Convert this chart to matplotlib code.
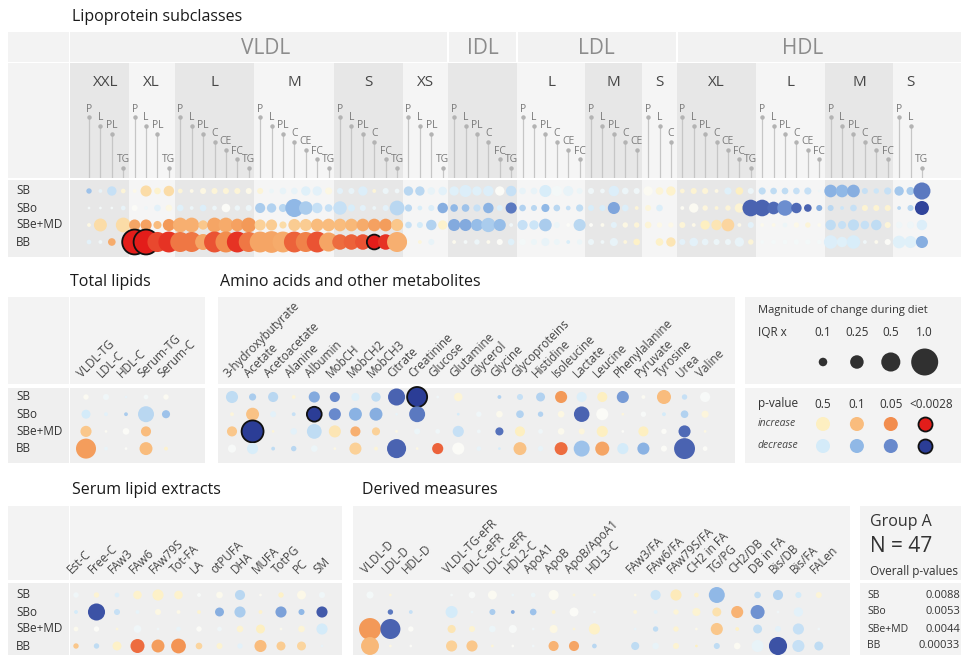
import numpy as np
import matplotlib.pyplot as plt
from matplotlib.colors import LinearSegmentedColormap
from matplotlib.patches import Rectangle
from matplotlib.transforms import blended_transform_factory as blend

plt.rcParams['font.family'] = ['Open Sans', 'DejaVu Sans']

W, H = 961, 657
rows = ['SB', 'SBo', 'SBe+MD', 'BB']

# ---------------- data ----------------
# lipoprotein subclasses: (class, size, measured components)
lipo_groups = [
    ('VLDL', 'XXL', ['P', 'L', 'PL', 'TG']),
    ('VLDL', 'XL', ['P', 'L', 'PL', 'TG']),
    ('VLDL', 'L', ['P', 'L', 'PL', 'C', 'CE', 'FC', 'TG']),
    ('VLDL', 'M', ['P', 'L', 'PL', 'C', 'CE', 'FC', 'TG']),
    ('VLDL', 'S', ['P', 'L', 'PL', 'C', 'FC', 'TG']),
    ('VLDL', 'XS', ['P', 'L', 'PL', 'TG']),
    ('IDL', '', ['P', 'L', 'PL', 'C', 'FC', 'TG']),
    ('LDL', 'L', ['P', 'L', 'PL', 'C', 'CE', 'FC']),
    ('LDL', 'M', ['P', 'L', 'PL', 'C', 'CE']),
    ('LDL', 'S', ['P', 'L', 'C']),
    ('HDL', 'XL', ['P', 'L', 'PL', 'C', 'CE', 'FC', 'TG']),
    ('HDL', 'L', ['P', 'L', 'PL', 'C', 'CE', 'FC']),
    ('HDL', 'M', ['P', 'L', 'PL', 'C', 'CE', 'FC']),
    ('HDL', 'S', ['P', 'L', 'TG']),
]

# magnitude of change (x IQR) and signed significance level
# (1 = p 0.5, 2 = p 0.1, 3 = p 0.05, 4 = p < 0.0028; + increase, - decrease)
lipo_mag = [
    [0.04, 0.02, 0.12, 0.03, 0.02, 0.17, 0.06, 0.15,
     0.03, 0.02, 0.05, 0.05, 0.05, 0.05, 0.05, 0.05, 0.03, 0.06, 0.06, 0.12, 0.12, 0.07,
     0.05, 0.05, 0.12, 0.02, 0.05, 0.03, 0.12, 0.12, 0.08, 0.10,
     0.12, 0.20, 0.12, 0.15, 0.12, 0.15,
     0.06, 0.06, 0.20, 0.15, 0.14, 0.05, 0.05, 0.03, 0.15, 0.06, 0.05, 0.12, 0.08, 0.12,
     0.03, 0.05, 0.05, 0.02, 0.07, 0.08, 0.05, 0.07, 0.06, 0.06, 0.06, 0.07, 0.01,
     0.22, 0.22, 0.22, 0.05, 0.04, 0.07, 0.12, 0.09, 0.40],
    [0.01, 0.01, 0.01, 0.03, 0.05, 0.02, 0.06, 0.06,
     0.06, 0.02, 0.06, 0.03, 0.10, 0.04, 0.05, 0.14, 0.12, 0.09, 0.45, 0.25, 0.15, 0.08,
     0.25, 0.07, 0.05, 0.02, 0.05, 0.30, 0.07, 0.03, 0.05, 0.15,
     0.08, 0.08, 0.07, 0.15, 0.05, 0.17,
     0.06, 0.05, 0.09, 0.06, 0.03, 0.07, 0.05, 0.05, 0.20, 0.06, 0.02, 0.05, 0.06, 0.00,
     0.02, 0.12, 0.04, 0.02, 0.04, 0.12, 0.38, 0.38, 0.22, 0.33, 0.15, 0.08, 0.05,
     0.05, 0.02, 0.06, 0.05, 0.05, 0.05, 0.02, 0.05, 0.27],
    [0.02, 0.23, 0.00, 0.30, 0.17, 0.17, 0.09, 0.20,
     0.30, 0.30, 0.12, 0.30, 0.30, 0.22, 0.30, 0.17, 0.17, 0.07, 0.20, 0.20, 0.22, 0.22,
     0.22, 0.22, 0.22, 0.22, 0.22, 0.20, 0.06, 0.05, 0.15, 0.12,
     0.20, 0.20, 0.20, 0.28, 0.20, 0.02,
     0.14, 0.12, 0.22, 0.05, 0.02, 0.20, 0.02, 0.02, 0.05, 0.04, 0.04, 0.06, 0.04, 0.04,
     0.05, 0.02, 0.12, 0.15, 0.22, 0.02, 0.05, 0.02, 0.02, 0.03, 0.04, 0.04, 0.02,
     0.15, 0.09, 0.17, 0.10, 0.15, 0.05, 0.06, 0.07, 0.15],
    [0.03, 0.02, 0.08, 0.00, 0.85, 0.85, 0.55, 0.60,
     0.55, 0.55, 0.35, 0.60, 0.60, 0.60, 0.55, 0.60, 0.65, 0.60, 0.60, 0.55, 0.60, 0.50,
     0.33, 0.33, 0.33, 0.30, 0.33, 0.55, 0.01, 0.02, 0.05, 0.00,
     0.02, 0.02, 0.04, 0.02, 0.05, 0.06,
     0.06, 0.05, 0.09, 0.05, 0.02, 0.04, 0.05, 0.02, 0.09, 0.02, 0.06, 0.00, 0.08, 0.12,
     0.05, 0.10, 0.06, 0.05, 0.05, 0.12, 0.04, 0.02, 0.03, 0.03, 0.04, 0.04, 0.03,
     0.25, 0.15, 0.25, 0.02, 0.02, 0.05, 0.22, 0.20, 0.20],
]
lipo_sig = [
    [-1.8, -0.5, -1.2, 0.6, 0.3, 1.4, 0.8, 1.4,
     0.6, 0.3, 0.4, 0.6, 0.6, 0.6, 0.3, 0.6, -0.4, -0.5, -0.5, -0.7, -0.6, 0.4,
     -0.6, -0.5, -0.8, 0.6, -0.4, -0.3, -1.4, -1.4, -0.5, -0.6,
     -0.7, -0.8, -0.7, -0.8, 0.0, -1.2,
     -0.5, -0.5, -0.9, -0.2, -0.5, -0.4, -0.3, -0.3, -0.8, -0.4, -0.3, 0.1, 0.6, 0.8,
     0.6, 0.7, 0.6, 0.4, -0.7, 1.0, -0.4, -1.3, -1.3, -1.3, -1.2, -1.2, -0.3,
     -2.1, -2.0, -2.2, -1.2, -1.1, -1.2, -1.7, -1.6, -3.2],
    [-0.2, -0.2, -0.2, -0.5, 0.0, -0.3, -0.6, 0.4,
     -0.7, -0.4, -0.8, -0.4, 0.0, -0.4, -0.4, -1.6, -1.5, -1.4, -2.0, -1.6, -1.2, -1.2,
     -1.2, -0.9, -0.6, -0.4, -0.6, -1.4, -1.4, -0.9, -0.8, -2.2,
     -2.0, -1.8, -1.2, -2.1, -0.8, -3.2,
     -1.5, -1.4, -2.0, -1.4, -1.2, -1.3, -0.9, -0.9, -2.4, -0.8, 0.6, 0.5, -0.8, 0.0,
     0.1, 0.1, 0.5, 0.6, 0.6, 0.7, -3.5, -3.5, -3.4, -2.9, -3.4, -3.5, -2.2,
     -1.4, -1.1, -1.2, 0.7, 0.7, 0.7, -1.4, -1.4, -3.9],
    [0.4, 1.4, 0.0, 1.4, 2.5, 2.6, 2.0, 2.8,
     2.3, 2.3, 1.8, 2.5, 2.4, 2.6, 2.8, 1.6, 1.7, 1.4, 1.7, 1.7, 2.0, 2.0,
     2.0, 2.1, 2.4, 2.6, 2.7, 1.8, -1.2, -1.0, -1.5, 0.8,
     -2.3, -2.3, -1.9, -1.6, -1.9, -0.3,
     -1.2, -1.1, -1.6, -0.4, 0.0, -1.4, 0.0, 0.2, -0.6, 0.4, 0.6, 0.6, 0.3, 0.3,
     0.6, 0.3, 1.0, 1.2, 1.5, 0.3, -0.6, 0.2, 0.3, -0.4, 0.3, 0.6, 0.2,
     -1.3, -1.2, -1.3, -1.2, -1.3, 0.6, -0.3, -0.3, -0.8],
    [-0.6, -0.3, 2.4, 0.0, 4.0, 4.0, 3.6, 3.8,
     3.2, 3.2, 2.5, 3.5, 3.0, 3.8, 3.2, 2.5, 2.5, 2.4, 3.4, 3.1, 3.5, 2.5,
     3.3, 3.4, 3.5, 4.0, 3.8, 2.3, 0.3, 0.5, -0.5, 0.0,
     0.2, -0.2, -0.4, 0.2, 0.0, -0.7,
     -0.2, -0.4, -0.5, -0.4, -0.9, -0.4, -0.4, -0.3, -0.5, 0.5, 0.9, 0.0, 0.9, 1.2,
     -0.6, -0.6, -0.5, -0.4, -0.4, -0.5, 0.6, -0.2, -0.2, -0.2, -0.2, -0.2, -0.2,
     -0.8, -0.7, -0.9, -0.3, 0.2, 0.0, -0.7, -0.7, -2.2],
]

tl_labels = ['VLDL-TG', 'LDL-C', 'HDL-C', 'Serum-TG', 'Serum-C']
tl_mag = [[0.04, 0.05, 0.01, 0.03, 0.04],
          [0.11, 0.02, 0.02, 0.35, 0.09],
          [0.17, 0.01, 0.06, 0.14, 0.00],
          [0.55, 0.02, 0.01, 0.23, 0.02]]
tl_sig = [[0.1, -0.3, -0.5, -0.2, 0.1],
          [-1.0, -0.6, -1.6, -1.4, -1.8],
          [1.8, 0.1, 0.0, 2.0, 0.0],
          [2.7, -0.5, 0.0, 2.0, 0.8]]

aa_labels = ['3-hydroxybutyrate', 'Acetate', 'Acetoacetate', 'Alanine', 'Albumin',
             'MobCH', 'MobCH2', 'MobCH3', 'Citrate', 'Creatinine', 'Glucose',
             'Glutamine', 'Glycerol', 'Glycine', 'Glycoproteins', 'Histidine',
             'Isoleucine', 'Lactate', 'Leucine', 'Phenylalanine', 'Pyruvate',
             'Tyrosine', 'Urea', 'Valine']
aa_mag = [[0.20, 0.07, 0.14, 0.02, 0.17, 0.14, 0.09, 0.12, 0.40, 0.55, 0.01, 0.10,
           0.00, 0.02, 0.05, 0.11, 0.20, 0.14, 0.14, 0.20, 0.02, 0.27, 0.04, 0.14],
          [0.02, 0.23, 0.05, 0.02, 0.30, 0.20, 0.23, 0.23, 0.01, 0.35, 0.00, 0.01,
           0.04, 0.06, 0.08, 0.04, 0.06, 0.33, 0.20, 0.01, 0.04, 0.02, 0.08, 0.07],
          [0.14, 0.66, 0.01, 0.06, 0.30, 0.20, 0.14, 0.09, 0.01, 0.05, 0.03, 0.17,
           0.02, 0.09, 0.14, 0.03, 0.06, 0.05, 0.17, 0.01, 0.14, 0.04, 0.20, 0.01],
          [0.09, 0.17, 0.02, 0.04, 0.06, 0.01, 0.20, 0.02, 0.50, 0.01, 0.17, 0.20,
           0.03, 0.01, 0.23, 0.04, 0.23, 0.35, 0.27, 0.17, 0.20, 0.05, 0.60, 0.03]]
aa_sig = [[-1.3, -1.6, -1.4, 0.6, -2.3, -3.0, -0.7, -1.3, -3.5, -4.0, -0.3, 0.6,
           0.0, -1.5, -1.2, -1.5, 2.8, -0.8, 1.0, -2.6, 0.1, 2.0, -1.2, -0.1],
          [0.5, 1.9, -0.6, -1.2, -4.0, -3.0, -2.1, -2.2, -0.5, -3.2, 0.0, -1.0,
           -0.3, 0.2, -1.5, -1.5, 0.4, -3.5, 0.0, 0.5, -0.1, -1.0, -1.5, 0.5],
          [1.8, -4.0, 0.6, -0.6, -1.3, 1.2, 2.3, 1.6, 0.4, -0.4, -0.3, -1.2,
           -0.3, -3.3, 1.0, -0.3, 0.2, 0.5, 1.0, 0.0, 1.0, 0.0, -3.4, 0.4],
          [-0.1, -0.9, -1.3, -1.4, -0.4, 0.4, 1.6, 0.6, -3.5, 0.4, 3.4, 0.0,
           -0.5, -1.0, 1.9, -0.5, 3.3, -1.8, 2.5, -1.0, -2.1, 0.0, -3.5, 0.0]]

sl_labels = ['Est-C', 'Free-C', 'FAw3', 'FAw6', 'FAw79S', 'Tot-FA', 'LA',
             'otPUFA', 'DHA', 'MUFA', 'TotPG', 'PC', 'SM']
sl_mag = [[0.04, 0.04, 0.03, 0.10, 0.17, 0.10, 0.02, 0.06, 0.14, 0.01, 0.04, 0.11, 0.05],
          [0.02, 0.40, 0.05, 0.02, 0.05, 0.02, 0.02, 0.11, 0.17, 0.02, 0.17, 0.05, 0.17],
          [0.03, 0.04, 0.01, 0.08, 0.01, 0.03, 0.04, 0.03, 0.06, 0.11, 0.01, 0.06, 0.17],
          [0.04, 0.04, 0.11, 0.27, 0.23, 0.30, 0.06, 0.05, 0.04, 0.20, 0.11, 0.11, 0.01]]
sl_sig = [[-0.3, 0.7, -0.8, 0.8, 0.9, 0.8, -0.1, 0.2, -1.4, 0.1, 0.9, 0.3, -0.3],
          [-1.0, -3.7, -1.2, -0.5, 0.4, 0.3, 0.7, -2.2, -1.6, 0.8, -2.5, -2.0, -3.6],
          [0.2, 0.0, 0.5, -0.3, -0.3, -0.5, 0.0, -0.3, 0.7, 1.0, 0.2, 0.6, -1.0],
          [1.8, -1.3, 0.9, 3.3, 2.7, 2.9, 1.5, 0.7, -0.6, 2.0, 1.7, 1.5, -0.5]]

dm_labels = ['VLDL-D', 'LDL-D', 'HDL-D',
             'VLDL-TG-eFR', 'IDL-C-eFR', 'LDL-C-eFR', 'HDL2-C', 'ApoA1', 'ApoB',
             'ApoB/ApoA1', 'HDL3-C',
             'FAw3/FA', 'FAw6/FA', 'FAw79S/FA', 'CH2 in FA', 'TG/PG', 'CH2/DB',
             'DB in FA', 'Bis/DB', 'Bis/FA', 'FALen']
dm_slots = [0, 1, 2, 4, 5, 6, 7, 8, 9, 10, 11, 13, 14, 15, 16, 17, 18, 19, 20, 21, 22]
dm_mag = [[0.07, 0.01, 0.00, 0.01, 0.06, 0.11, 0.01, 0.03, 0.14, 0.01, 0.01,
           0.01, 0.14, 0.17, 0.03, 0.35, 0.00, 0.06, 0.14, 0.05, 0.05],
          [0.00, 0.04, 0.02, 0.20, 0.01, 0.05, 0.02, 0.06, 0.02, 0.11, 0.01,
           0.02, 0.02, 0.04, 0.09, 0.11, 0.20, 0.27, 0.01, 0.12, 0.00],
          [0.66, 0.55, 0.04, 0.09, 0.05, 0.06, 0.09, 0.01, 0.09, 0.01, 0.17,
           0.01, 0.04, 0.04, 0.01, 0.20, 0.02, 0.11, 0.05, 0.17, 0.01],
          [0.44, 0.01, 0.01, 0.17, 0.17, 0.01, 0.01, 0.01, 0.14, 0.14, 0.03,
           0.09, 0.06, 0.05, 0.01, 0.05, 0.06, 0.20, 0.45, 0.20, 0.11]]
dm_sig = [[-0.2, 0.5, 0.0, -0.2, -0.1, 0.1, -0.4, -0.4, 0.1, 0.6, 0.5,
           0.3, -1.1, 1.1, 0.8, -2.0, 0.0, -1.3, -1.5, -1.0, 0.6],
          [0.0, -3.2, -1.2, -1.0, -0.4, -1.6, -2.2, -1.8, 0.7, 0.0, -0.3,
           0.5, -0.6, 0.6, 0.7, 1.3, 2.2, -2.8, -0.3, -0.6, 0.0],
          [2.8, -3.5, 0.0, 1.2, 0.7, -0.4, -0.1, -0.3, 0.4, 0.6, 0.9,
           -0.5, -1.3, 0.7, 0.3, 1.8, 0.9, -1.3, -0.6, -1.2, -0.3],
          [2.1, 0.4, 0.0, 1.6, 1.8, 0.6, 0.0, -0.3, 2.2, 2.5, -1.4,
           -1.3, -0.5, 0.7, 1.0, -1.3, 0.1, -0.5, -3.7, -1.2, -1.3]]

legend_iqr = [0.1, 0.25, 0.5, 1.0]
legend_p = ['0.5', '0.1', '0.05', '<0.0028']
legend_level = [1, 2, 3, 4]

group_name = 'Group A'
group_n = 47
overall_p = ['0.0088', '0.0053', '0.0044', '0.00033']

# ---------------- styling ----------------
sig_nodes = [-4, -3, -2, -1, 0, 1, 2, 3, 4]
sig_colors = ['#2b3d96', '#6889cc', '#8fb8e6', '#d4ebf9', '#fbfbf8',
              '#fdf0c2', '#f9bd7e', '#f2904f', '#e31d1a']
cmap = LinearSegmentedColormap.from_list(
    'sig', list(zip([(v + 4) / 8 for v in sig_nodes], sig_colors)))
SIZE = 378.0          # marker area (pt^2) for a change of 1 IQR
HEAD = '#f3f3f3'
BODY = '#efefef'
TXT = '#333333'

fig = plt.figure(figsize=(W / 100, H / 100), dpi=100)
bg = fig.add_axes([0, 0, 1, 1])
bg.set_xlim(0, W)
bg.set_ylim(H, 0)
bg.axis('off')


def box(x0, y0, x1, y1, color):
    bg.add_patch(Rectangle((x0, y0), x1 - x0, y1 - y0, fc=color, ec='none', zorder=0))


def grid_axes(left, top, right, bottom, cx0, cdx, ry0, rdy):
    ax = fig.add_axes([left / W, 1 - bottom / H, (right - left) / W, (bottom - top) / H])
    ax.set_xlim((left - cx0) / cdx, (right - cx0) / cdx)
    ax.set_ylim((bottom - ry0) / rdy, (top - ry0) / rdy)
    ax.axis('off')
    return ax


def dots(ax, xs, mag, sig):
    xs = np.asarray(xs, float)
    for r in range(len(rows)):
        m = np.asarray(mag[r], float)
        s = np.asarray(sig[r], float)
        keep = m > 0
        strong = np.abs(s[keep]) >= 4
        ax.scatter(xs[keep], np.full(keep.sum(), r), s=SIZE * m[keep],
                   c=cmap((s[keep] + 4) / 8),
                   edgecolors=['#111111' if k else 'none' for k in strong],
                   linewidths=np.where(strong, 1.3, 0.0), zorder=3, clip_on=False)


def row_labels(ax):
    tr = blend(bg.transData, ax.transData)
    for r, name in enumerate(rows):
        ax.text(16, r, name, transform=tr, fontsize=8.5, color=TXT, va='center', ha='left')


def col_labels(ax, xs, labels, y, dx):
    tr = blend(ax.transData, bg.transData)
    for x, name in zip(xs, labels):
        ax.text(x - 4 / dx, y, name, transform=tr, rotation=45, rotation_mode='anchor',
                ha='left', va='baseline', fontsize=8.5, color='#444444')


def title(x, y, text):
    bg.text(x, y, text, fontsize=11.5, color='#1a1a1a', va='center', ha='left')


# ---------------- lipoprotein subclasses ----------------
title(72, 17, 'Lipoprotein subclasses')
box(8, 32, 69, 62, HEAD)
box(8, 63, 69, 178, HEAD)
box(8, 180, 69, 257, BODY)

LX0, LDX = 89, 11.41
hd = grid_axes(70, 32, 961, 178, LX0, LDX, 0, 1)
dt = grid_axes(70, 180, 961, 257, LX0, LDX, 191, 17)
xl, xr = hd.get_xlim()

comps, spans = [], []
for cls, sub, cs in lipo_groups:
    spans.append((cls, sub, len(comps), len(comps) + len(cs) - 1))
    comps += cs

stem_top = {'P': 117, 'L': 126, 'PL': 134, 'C': 142, 'CE': 150, 'FC': 159, 'TG': 168}

for k, (cls, sub, i0, i1) in enumerate(spans):
    left = xl if k == 0 else i0 - 0.5
    right = xr if k == len(spans) - 1 else i1 + 0.5
    shade = '#e7e7e7' if k % 2 == 0 else '#f5f5f5'
    hd.add_patch(Rectangle((left, 63), right - left, 115, fc=shade, ec='none', zorder=0))
    dt.axvspan(left, right, color=shade, lw=0, zorder=0)
    if sub:
        hd.text((i0 + i1) / 2, 83, sub, ha='center', va='center', fontsize=11, color='#474747')

classes = []
for cls, sub, i0, i1 in spans:
    if classes and classes[-1][0] == cls:
        classes[-1][2] = i1
    else:
        classes.append([cls, i0, i1])
for k, (cls, i0, i1) in enumerate(classes):
    left = xl if k == 0 else i0 - 0.5
    right = xr if k == len(classes) - 1 else i1 + 0.5
    hd.add_patch(Rectangle((left, 32), right - left, 30, fc='#f2f2f2', ec='none', zorder=0))
    if k > 0:
        hd.vlines(i0 - 0.5, 32, 62, color='white', lw=1.5, zorder=1)
    hd.text((i0 + i1) / 2, 48, cls, ha='center', va='center', fontsize=15, color='#8c8c8c')

for i, c in enumerate(comps):
    top = stem_top[c]
    hd.vlines(i, top, 178, color='#c6c6c6', lw=0.9, zorder=2)
    hd.plot(i, top, 'o', ms=2.2, color='#b3b3b3', zorder=3)
    hd.text(i, top - 2.5, c, ha='center', va='bottom', fontsize=7.5, color='#7a7a7a')

dots(dt, np.arange(len(comps)), lipo_mag, lipo_sig)
row_labels(dt)

# ---------------- total lipids ----------------
title(70, 282, 'Total lipids')
box(8, 297, 69, 384, HEAD)
box(70, 297, 205, 384, HEAD)
box(8, 388, 69, 463, BODY)
box(70, 388, 205, 463, BODY)
ax_tl = grid_axes(70, 388, 205, 463, 86, 20, 397, 17.2)
dots(ax_tl, np.arange(len(tl_labels)), tl_mag, tl_sig)
row_labels(ax_tl)
col_labels(ax_tl, np.arange(len(tl_labels)), tl_labels, 378, 20)

# ---------------- amino acids ----------------
title(220, 282, 'Amino acids and other metabolites')
box(218, 297, 735, 384, HEAD)
box(218, 388, 735, 463, BODY)
ax_aa = grid_axes(218, 388, 735, 463, 232, 20.57, 397, 17.2)
dots(ax_aa, np.arange(len(aa_labels)), aa_mag, aa_sig)
col_labels(ax_aa, np.arange(len(aa_labels)), aa_labels, 378, 20.57)

# ---------------- legend ----------------
box(745, 297, 961, 384, HEAD)
box(745, 388, 961, 463, HEAD)
lg = grid_axes(745, 297, 961, 463, 823, 33.9, 0, 1)
tr_lg = blend(bg.transData, lg.transData)
lg.text(758, 310, 'Magnitude of change during diet', transform=tr_lg, fontsize=8,
        color=TXT, va='center')
lg.text(758, 333, 'IQR x', transform=tr_lg, fontsize=8.5, color=TXT, va='center')
for i, v in enumerate(legend_iqr):
    lg.text(i, 333, f'{v:g}' if v != 1 else '1.0', ha='center', va='center',
            fontsize=8.5, color=TXT)
lg.scatter(np.arange(len(legend_iqr)), np.full(len(legend_iqr), 362),
           s=SIZE * np.array(legend_iqr), color='#303030', lw=0, clip_on=False)
lg.text(758, 404, 'p-value', transform=tr_lg, fontsize=8.5, color=TXT, va='center')
lg.text(758, 424, 'increase', transform=tr_lg, fontsize=7.5, color='#444444',
        va='center', style='italic')
lg.text(758, 446, 'decrease', transform=tr_lg, fontsize=7.5, color='#444444',
        va='center', style='italic')
for i, (p, lev) in enumerate(zip(legend_p, legend_level)):
    shift = 0.2 if i == len(legend_p) - 1 else 0.0
    lg.text(i + shift, 404, p, ha='center', va='center', fontsize=8.5, color=TXT)
    for y, sgn in ((424, 1), (446, -1)):
        lg.scatter(i, y, s=SIZE * 0.27, color=cmap((sgn * lev + 4) / 8),
                   edgecolors='#111111' if lev >= 4 else 'none',
                   linewidths=1.3 if lev >= 4 else 0, clip_on=False)

# ---------------- serum lipid extracts ----------------
title(72, 490, 'Serum lipid extracts')
box(8, 506, 69, 580, HEAD)
box(70, 506, 342, 580, HEAD)
box(8, 583, 69, 655, BODY)
box(70, 583, 342, 655, BODY)
ax_sl = grid_axes(70, 583, 342, 655, 76, 20.5, 595, 17)
dots(ax_sl, np.arange(len(sl_labels)), sl_mag, sl_sig)
row_labels(ax_sl)
col_labels(ax_sl, np.arange(len(sl_labels)), sl_labels, 574, 20.5)

# ---------------- derived measures ----------------
title(362, 490, 'Derived measures')
box(353, 506, 850, 580, HEAD)
box(353, 583, 850, 655, BODY)
ax_dm = grid_axes(353, 583, 850, 655, 370, 20.4, 595, 17)
dots(ax_dm, dm_slots, dm_mag, dm_sig)
col_labels(ax_dm, dm_slots, dm_labels, 574, 20.4)

# ---------------- group summary ----------------
box(860, 506, 961, 580, HEAD)
box(860, 583, 961, 655, HEAD)
bg.text(870, 522, group_name, fontsize=11.5, color=TXT, va='center')
bg.text(870, 547, f'N = {group_n}', fontsize=15, color=TXT, va='center')
bg.text(870, 571, 'Overall p-values', fontsize=8.5, color=TXT, va='center')
tr_g = blend(bg.transData, ax_sl.transData)
for r, (name, p) in enumerate(zip(rows, overall_p)):
    ax_sl.text(867, r, name, transform=tr_g, fontsize=7.5, color=TXT, va='center')
    ax_sl.text(960, r, p, transform=tr_g, fontsize=8, color=TXT, va='center', ha='right')

fig.savefig('out.png', dpi=100)
